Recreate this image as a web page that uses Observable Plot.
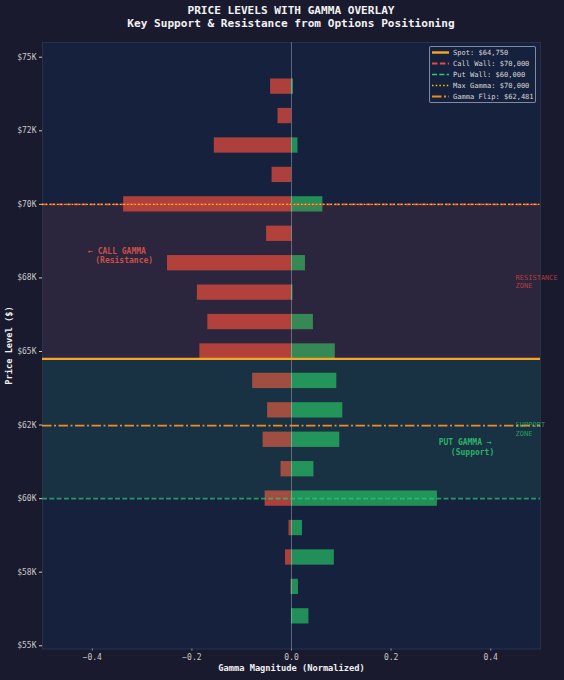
<!DOCTYPE html>
<html>
<head>
<meta charset="utf-8">
<script src="https://cdn.jsdelivr.net/npm/d3@7"></script>
<script src="https://cdn.jsdelivr.net/npm/@observablehq/plot@0.6"></script>
<style>
html,body{margin:0;padding:0;background:#1a1a2e;width:564px;height:680px;overflow:hidden;position:relative;}
#title{height:36px;box-sizing:border-box;padding:3.5px 0 0 18px;text-align:center;color:#f2f2f2;font:bold 11.1px/13px "DejaVu Sans Mono",monospace;white-space:pre;}
#legend{position:absolute;left:429px;top:46px;width:107px;height:57px;box-sizing:border-box;border:1px solid rgba(200,210,225,.6);border-radius:2px;background:rgba(22,33,62,.9);padding:0 0 0 2px;font:7.05px/11px "DejaVu Sans Mono",monospace;color:#d8d8d8;}
#legend div{height:11px;display:flex;align-items:center;white-space:pre;}
#legend svg{width:17px;height:11px;margin-right:4px;flex:none;}
#chart svg{display:block;}
</style>
</head>
<body>
<div id="title">PRICE LEVELS WITH GAMMA OVERLAY
Key Support &amp; Resistance from Options Positioning</div>
<div id="chart"></div>
<div id="legend"></div>
<script>
const prices   = [74000,73000,72000,71000,70000,69000,68000,67000,66000,65000,64000,63000,62000,61000,60000,59000,58000,57000,56000];
const callGamma= [-0.042,-0.027,-0.155,-0.039,-0.337,-0.05,-0.249,-0.189,-0.168,-0.184,-0.078,-0.048,-0.057,-0.021,-0.053,-0.005,-0.012,-0.001,0];
const putGamma = [0.004,0,0.013,0,0.063,0.001,0.028,0.003,0.044,0.088,0.091,0.103,0.097,0.045,0.293,0.022,0.086,0.014,0.035];

const yTicks  = [75000,72500,70000,67500,65000,62500,60000,57500,55000];
const yLabels = ["$75K","$72K","$70K","$68K","$65K","$62K","$60K","$58K","$55K"];
const xTicks  = [-0.4,-0.2,0,0.2,0.4];

const spot = 64750, callWall = 70000, putWall = 60000, maxGamma = 70000, gammaFlip = 62481;
const halfBar = 260;

const levels = [
  {name:"Spot: $64,750",      value:spot,      color:"#f7a823", width:2.4, dash:null},
  {name:"Call Wall: $70,000", value:callWall,  color:"#e74c3c", width:1.8, dash:"5.5 2.4"},
  {name:"Put Wall: $60,000",  value:putWall,   color:"#2ecc71", width:1.6, dash:"5 2.3", opacity:.7},
  {name:"Max Gamma: $70,000", value:maxGamma,  color:"#f1c40f", width:1.3, dash:"1.5 2.2"},
  {name:"Gamma Flip: $62,481",value:gammaFlip, color:"#f08a24", width:1.9, dash:"9.5 2.5 2 2.5"}
];

const zones = [
  {y1:spot, y2:callWall, fill:"#e74c3c"},
  {y1:putWall, y2:spot, fill:"#2ecc71"}
];

const boldNotes = [
  {t:"← CALL GAMMA", x:-0.4085, y:68400, c:"#e85a4a"},
  {t:"(Resistance)", x:-0.394,  y:68080, c:"#e85a4a"},
  {t:"PUT GAMMA →",  x:0.2955,  y:61905, c:"#2ecc71"},
  {t:"(Support)",    x:0.32,    y:61580, c:"#2ecc71"}
];
const zoneNotes = [
  {t:"RESISTANCE\nZONE", x:0.45, y:67375, c:"#e74c3c"},
  {t:"SUPPORT\nZONE",    x:0.45, y:62375, c:"#2ecc71"}
];

const rows = prices.map((p,i)=>({p, call:callGamma[i], put:putGamma[i]}));
const mono = '"DejaVu Sans Mono",monospace';

const chart = Plot.plot({
  width:564, height:644,
  marginTop:6, marginBottom:31.5, marginLeft:42, marginRight:24,
  style:{background:"#1a1a2e", fontFamily:mono, overflow:"visible"},
  x:{domain:[-0.5,0.5]},
  y:{domain:[54890,75500]},
  marks:[
    Plot.frame({fill:"#16213e", stroke:"none"}),
    Plot.rectX(rows,{x1:0,x2:"call",y1:d=>d.p-halfBar,y2:d=>d.p+halfBar,fill:"#e74c3c",fillOpacity:.72}),
    Plot.rectX(rows,{x1:0,x2:"put", y1:d=>d.p-halfBar,y2:d=>d.p+halfBar,fill:"#27ae60",fillOpacity:.78}),
    Plot.rect(zones,{x1:-0.5,x2:0.5,y1:"y1",y2:"y2",fill:"fill",fillOpacity:.1}),
    Plot.frame({stroke:"#2c3850",strokeWidth:.8}),
    Plot.ruleX([0],{stroke:"#ffffff",strokeOpacity:.3,strokeWidth:1}),
    ...levels.map(l=>Plot.ruleY([l.value],{stroke:l.color,strokeWidth:l.width,strokeDasharray:l.dash,strokeOpacity:l.opacity??1})),
    Plot.axisY(yTicks,{anchor:"left",tickSize:3,tickPadding:3,fontSize:8,stroke:"#c8c8c8",fill:"#c8c8c8",
      tickFormat:d=>yLabels[yTicks.indexOf(d)],label:null}),
    Plot.axisX(xTicks,{anchor:"bottom",tickSize:2,tickPadding:3,fontSize:8,stroke:"#8a93a5",fill:"#c8c8c8",
      tickFormat:d=>d3.format(".1f")(d).replace("-","−"),label:null}),
    Plot.text(["Gamma Magnitude (Normalized)"],{frameAnchor:"bottom",dy:21.5,fontSize:8.7,fontWeight:"bold",fill:"#f0f0f0"}),
    Plot.text(["Price Level ($)"],{frameAnchor:"left",dx:-33,dy:39,rotate:-90,fontSize:8.7,fontWeight:"bold",fill:"#f0f0f0"}),
    Plot.text(boldNotes,{x:"x",y:"y",text:"t",fill:"c",fontSize:8,fontWeight:"bold",fillOpacity:.85,textAnchor:"start"}),
    Plot.text(zoneNotes,{x:"x",y:"y",text:"t",fill:"c",fontSize:7,fillOpacity:.7,textAnchor:"start",lineHeight:1.2})
  ]
});
document.getElementById("chart").appendChild(chart);

const legend = document.getElementById("legend");
levels.forEach(l=>{
  const row = document.createElement("div");
  row.innerHTML = `<svg viewBox="0 0 17 11"><line x1="0" x2="17" y1="5.5" y2="5.5" stroke="${l.color}" stroke-width="${l.width}" ${l.dash?`stroke-dasharray="${l.dash}"`:""}/></svg><span></span>`;
  row.querySelector("span").textContent = l.name;
  legend.appendChild(row);
});
</script>
</body>
</html>
